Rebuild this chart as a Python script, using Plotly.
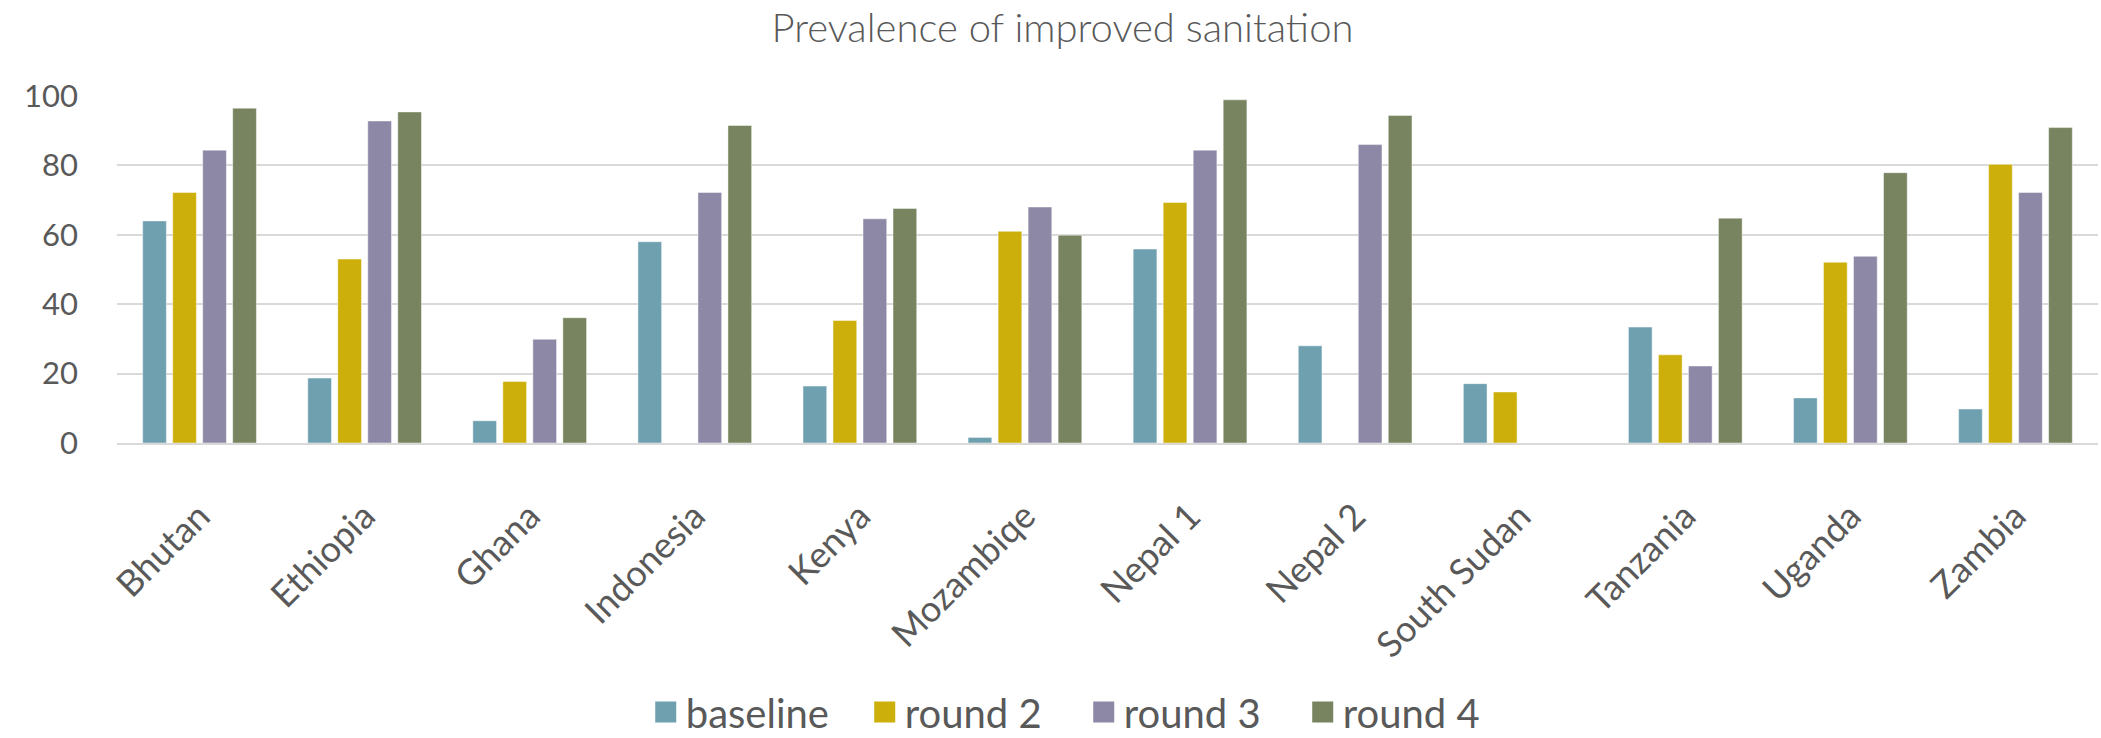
import plotly.graph_objects as go

countries = ["Bhutan", "Ethiopia", "Ghana", "Indonesia", "Kenya", "Mozambiqe",
             "Nepal 1", "Nepal 2", "South Sudan", "Tanzania", "Uganda", "Zambia"]

baseline = [64.0, 18.7, 6.4, 58.0, 16.4, 1.6, 55.9, 28.0, 17.1, 33.4, 13.0, 9.8]
round_2 = [72.2, 53.0, 17.7, None, 35.3, 61.0, 69.3, None, 14.7, 25.4, 52.1, 80.3]
round_3 = [84.4, 92.8, 29.9, 72.2, 64.6, 68.0, 84.4, 86.0, None, 22.2, 53.8, 72.2]
round_4 = [96.5, 95.4, 36.1, 91.5, 67.6, 59.9, 98.9, 94.4, None, 64.8, 77.9, 90.9]

series_names = ["baseline", "round 2", "round 3", "round 4"]
series_values = [baseline, round_2, round_3, round_4]
series_colors = ["#6FA0B0", "#CCAF0A", "#8C88A5", "#77845F"]

FONT = "Lato"
TEXT = "#595959"
GRID = "#D9D9D9"

fig = go.Figure()

for name, vals, color in zip(series_names, series_values, series_colors):
    fig.add_trace(go.Bar(
        x=countries, y=vals, name=name,
        marker=dict(color=color, line=dict(color="rgba(255,255,255,0.45)", width=1)),
        showlegend=False,
    ))

# legend entries with larger square swatches
for name, color in zip(series_names, series_colors):
    fig.add_trace(go.Scatter(
        x=[None], y=[None], mode="markers", name=name,
        marker=dict(symbol="square", size=16, color=color,
                    line=dict(color=color, width=5)),
        showlegend=True,
    ))

fig.update_layout(
    width=2101, height=738,
    margin=dict(l=117, r=3, t=96, b=295, autoexpand=False),
    paper_bgcolor="white", plot_bgcolor="white",
    barmode="group", bargap=0.273, bargroupgap=0.21,
    title=dict(text="Prevalence of improved sanitation",
               font=dict(family=FONT, size=40, color=TEXT, weight=300),
               x=0.5057, xref="container", xanchor="center",
               y=0.962, yref="container", yanchor="middle"),
    legend=dict(orientation="h", x=0.488, xanchor="center",
                y=-0.775, yanchor="middle", itemsizing="trace",
                entrywidth=174, entrywidthmode="pixels",
                font=dict(family=FONT, size=40, color=TEXT),
                bgcolor="rgba(0,0,0,0)"),
    font=dict(family=FONT, color=TEXT),
)

fig.update_xaxes(
    type="category", tickangle=-45, automargin=False,
    tickfont=dict(family=FONT, size=36, color=TEXT),
    showgrid=False, showline=True, linecolor=GRID, linewidth=1.5,
    ticks="", ticklabelstandoff=36,
)

fig.update_yaxes(
    range=[0, 100], dtick=20, tick0=0, automargin=False,
    tickfont=dict(family=FONT, size=31, color=TEXT),
    showgrid=True, gridcolor=GRID, gridwidth=1.5,
    zeroline=False, showline=False, ticks="",
    ticklabelstandoff=38,
)

fig.write_html("out.html")
